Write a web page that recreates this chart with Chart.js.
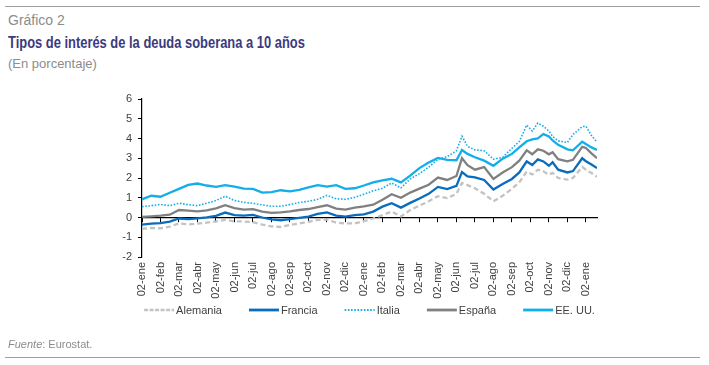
<!DOCTYPE html>
<html lang="es">
<head>
<meta charset="utf-8">
<script src="https://cdn.jsdelivr.net/npm/chart.js@4"></script>
<style>
  html, body { margin: 0; padding: 0; background: #fff; }
  body { width: 709px; height: 365px; position: relative; overflow: hidden; font-family: 'Liberation Sans', Arial, sans-serif; }
  #grafico { position: absolute; left: 0; top: 0; }
  .regla { position: absolute; left: 5px; width: 695px; height: 0; border-top: 1.5px solid #9f9f9f; }
  .txt { position: absolute; left: 8px; white-space: nowrap; }
  #num { top: 12px; font-size: 14px; color: #8c8c8c; }
  #titulo { top: 34px; font-size: 16px; font-weight: bold; color: #3d3a7e; transform-origin: 0 0; }
  #sub { top: 56px; font-size: 13px; color: #8c8c8c; }
  #fuente { top: 338px; font-size: 11px; color: #8c8c8c; }
</style>
</head>
<body>
<div class="regla" style="top:6px"></div>
<div class="txt" id="num">Gráfico 2</div>
<div class="txt" id="titulo">Tipos de interés de la deuda soberana a 10 años</div>
<div class="txt" id="sub">(En porcentaje)</div>
<canvas id="grafico" width="709" height="365"></canvas>
<div class="txt" id="fuente"><i>Fuente</i>: Eurostat.</div>
<div class="regla" style="top:357px"></div>
<script>
// posición en meses desde el 02-ene (primer año)
const meses = [0, 0.5, 1, 1.5, 2, 2.5, 3, 3.5, 4, 4.5, 5, 5.5, 6, 6.5, 7, 7.5, 8, 8.5, 9, 9.5,
  10, 10.5, 11, 11.5, 12, 12.5, 13, 13.5, 14, 14.5, 15, 15.5, 16, 16.5, 17, 17.3, 17.6, 18, 18.5, 19,
  19.5, 20, 20.4, 20.8, 21.1, 21.4, 21.7, 22, 22.2, 22.5, 23, 23.3, 23.8, 24, 24.3, 24.6];

const etiquetasMes = ['02-ene', '02-feb', '02-mar', '02-abr', '02-may', '02-jun', '02-jul', '02-ago',
  '02-sep', '02-oct', '02-nov', '02-dic', '02-ene', '02-feb', '02-mar', '02-abr', '02-may', '02-jun',
  '02-jul', '02-ago', '02-sep', '02-oct', '02-nov', '02-dic', '02-ene'];

const alemania = [-0.57, -0.53, -0.55, -0.46, -0.30, -0.35, -0.31, -0.26, -0.20, -0.12, -0.20, -0.20, -0.24, -0.36, -0.45, -0.48, -0.38, -0.30, -0.22, -0.12,
  -0.10, -0.26, -0.30, -0.30, -0.18, -0.05, 0.12, 0.30, 0.05, 0.38, 0.60, 0.82, 1.08, 0.98, 1.20, 1.75, 1.64, 1.48, 1.20, 0.82,
  1.10, 1.45, 1.78, 2.32, 2.18, 2.42, 2.34, 2.17, 2.26, 2.00, 1.92, 2.00, 2.56, 2.42, 2.25, 2.06];

const francia = [-0.36, -0.31, -0.28, -0.21, -0.05, -0.08, -0.04, 0.01, 0.08, 0.25, 0.12, 0.10, 0.13, 0.00, -0.10, -0.14, -0.08, -0.02, 0.05, 0.18,
  0.26, 0.10, 0.04, 0.12, 0.16, 0.30, 0.55, 0.72, 0.50, 0.74, 0.96, 1.20, 1.55, 1.44, 1.60, 2.30, 2.08, 2.03, 1.90, 1.42,
  1.70, 1.95, 2.28, 2.84, 2.66, 2.94, 2.84, 2.62, 2.80, 2.42, 2.28, 2.35, 3.00, 2.85, 2.68, 2.50];

const italia = [0.55, 0.60, 0.66, 0.60, 0.72, 0.65, 0.60, 0.72, 0.86, 1.08, 0.86, 0.77, 0.72, 0.64, 0.57, 0.57, 0.65, 0.76, 0.82, 0.92,
  1.12, 0.95, 0.92, 1.02, 1.18, 1.35, 1.48, 1.75, 1.50, 1.95, 2.22, 2.55, 2.95, 3.08, 3.38, 4.12, 3.60, 3.42, 3.38, 2.95,
  3.05, 3.50, 3.85, 4.68, 4.38, 4.78, 4.62, 4.38, 4.10, 3.88, 3.80, 4.20, 4.60, 4.62, 4.15, 3.82];

const espana = [0.03, 0.06, 0.09, 0.14, 0.38, 0.35, 0.31, 0.36, 0.46, 0.62, 0.48, 0.40, 0.42, 0.30, 0.23, 0.26, 0.31, 0.38, 0.43, 0.53,
  0.62, 0.45, 0.40, 0.50, 0.56, 0.65, 0.90, 1.18, 1.00, 1.26, 1.46, 1.66, 2.02, 1.90, 2.10, 3.00, 2.65, 2.42, 2.55, 1.95,
  2.28, 2.55, 2.88, 3.40, 3.20, 3.45, 3.38, 3.20, 3.30, 2.95, 2.84, 2.92, 3.58, 3.52, 3.25, 3.00];

const eeuu = [0.92, 1.10, 1.05, 1.25, 1.45, 1.65, 1.72, 1.62, 1.55, 1.64, 1.56, 1.46, 1.45, 1.26, 1.28, 1.38, 1.32, 1.40, 1.52, 1.64,
  1.56, 1.64, 1.45, 1.48, 1.62, 1.78, 1.88, 1.96, 1.78, 2.12, 2.50, 2.78, 3.02, 2.92, 2.90, 3.42, 3.22, 3.05, 2.88, 2.62,
  2.98, 3.22, 3.55, 3.86, 3.95, 4.00, 4.22, 4.10, 3.90, 3.68, 3.45, 3.40, 3.84, 3.72, 3.55, 3.42];

const serie = (vals) => meses.map((m, i) => ({ x: m, y: vals[i] }));

const ticksMeses = (scale) => { scale.ticks = etiquetasMes.map((_, i) => ({ value: i })); };

// el título del original es una fuente condensada: se estrecha para ocupar ~297px
const titulo = document.getElementById('titulo');
titulo.style.transform = 'scaleX(' + (297 / titulo.offsetWidth).toFixed(3) + ')';

// leyenda dibujada en el canvas, centrada bajo el área del gráfico
const leyenda = {
  id: 'leyenda',
  afterDraw(chart, args, opts) {
    const { ctx, chartArea } = chart;
    ctx.save();
    ctx.font = opts.font;
    const items = chart.data.datasets.map(ds => ({ ds, w: opts.largo + opts.hueco + ctx.measureText(ds.label).width }));
    const total = items.reduce((s, it) => s + it.w, 0) + opts.separa * (items.length - 1);
    let x = (chartArea.left + chartArea.right) / 2 - total / 2;
    const y = opts.y;
    items.forEach(({ ds, w }) => {
      ctx.beginPath();
      ctx.setLineDash(ds.legendDash || ds.borderDash || []);
      ctx.lineWidth = ds.legendWidth || ds.borderWidth;
      ctx.strokeStyle = ds.borderColor;
      ctx.moveTo(x, y);
      ctx.lineTo(x + opts.largo, y);
      ctx.stroke();
      ctx.setLineDash([]);
      ctx.fillStyle = opts.color;
      ctx.textBaseline = 'middle';
      ctx.fillText(ds.label, x + opts.largo + opts.hueco, y + 0.5);
      x += w + opts.separa;
    });
    ctx.restore();
  }
};

Chart.defaults.font.family = "'Liberation Sans', Arial, sans-serif";
Chart.defaults.font.size = 11;
Chart.defaults.color = '#404040';

new Chart(document.getElementById('grafico'), {
  type: 'line',
  data: {
    datasets: [
      { label: 'Alemania', data: serie(alemania), borderColor: '#c3c3c3', borderWidth: 2.3, borderDash: [5, 3], legendDash: [4, 1.5], legendWidth: 2.5 },
      { label: 'Francia', data: serie(francia), borderColor: '#0a6cbd', borderWidth: 2.3, legendWidth: 2.8 },
      { label: 'Italia', data: serie(italia), borderColor: '#1aaee8', borderWidth: 1.6, borderDash: [1.6, 1.6], legendWidth: 2 },
      { label: 'España', data: serie(espana), borderColor: '#808080', borderWidth: 2.3, legendWidth: 2.8 },
      { label: 'EE. UU.', data: serie(eeuu), borderColor: '#12aeea', borderWidth: 2.3, legendWidth: 2.8 }
    ]
  },
  plugins: [leyenda],
  options: {
    responsive: false,
    devicePixelRatio: 1,
    animation: false,
    parsing: false,
    elements: { point: { radius: 0 }, line: { tension: 0, fill: false } },
    layout: { padding: { left: 112, right: 112, top: 99, bottom: 58 } },
    scales: {
      x: {
        type: 'linear', position: 'bottom', min: 0, max: 24.6,
        afterBuildTicks: ticksMeses,
        afterFit: (s) => { s.height = 50; },
        grid: { display: false, drawTicks: false },
        border: { display: false },
        ticks: { minRotation: 90, maxRotation: 90, padding: 5, autoSkip: false, color: '#404040',
          callback: (v) => etiquetasMes[v] }
      },
      x0: {
        type: 'linear', position: { y: 0 }, min: 0, max: 24.6,
        afterBuildTicks: ticksMeses,
        grid: { drawOnChartArea: false, drawTicks: true, tickLength: 4, color: '#000' },
        border: { color: '#000', width: 1.2 },
        ticks: { display: false }
      },
      y: {
        min: -2, max: 6,
        afterFit: (s) => { s.width = 30; },
        grid: { drawOnChartArea: false, drawTicks: true, tickLength: 4, color: '#000' },
        border: { color: '#000', width: 1.2 },
        ticks: { stepSize: 1, padding: 6, color: '#404040' }
      }
    },
    plugins: {
      legend: { display: false },
      tooltip: { enabled: false },
      leyenda: { y: 310, largo: 30, hueco: 2, separa: 27, font: "11px 'Liberation Sans', Arial, sans-serif", color: '#404040' }
    }
  }
});
</script>
</body>
</html>
